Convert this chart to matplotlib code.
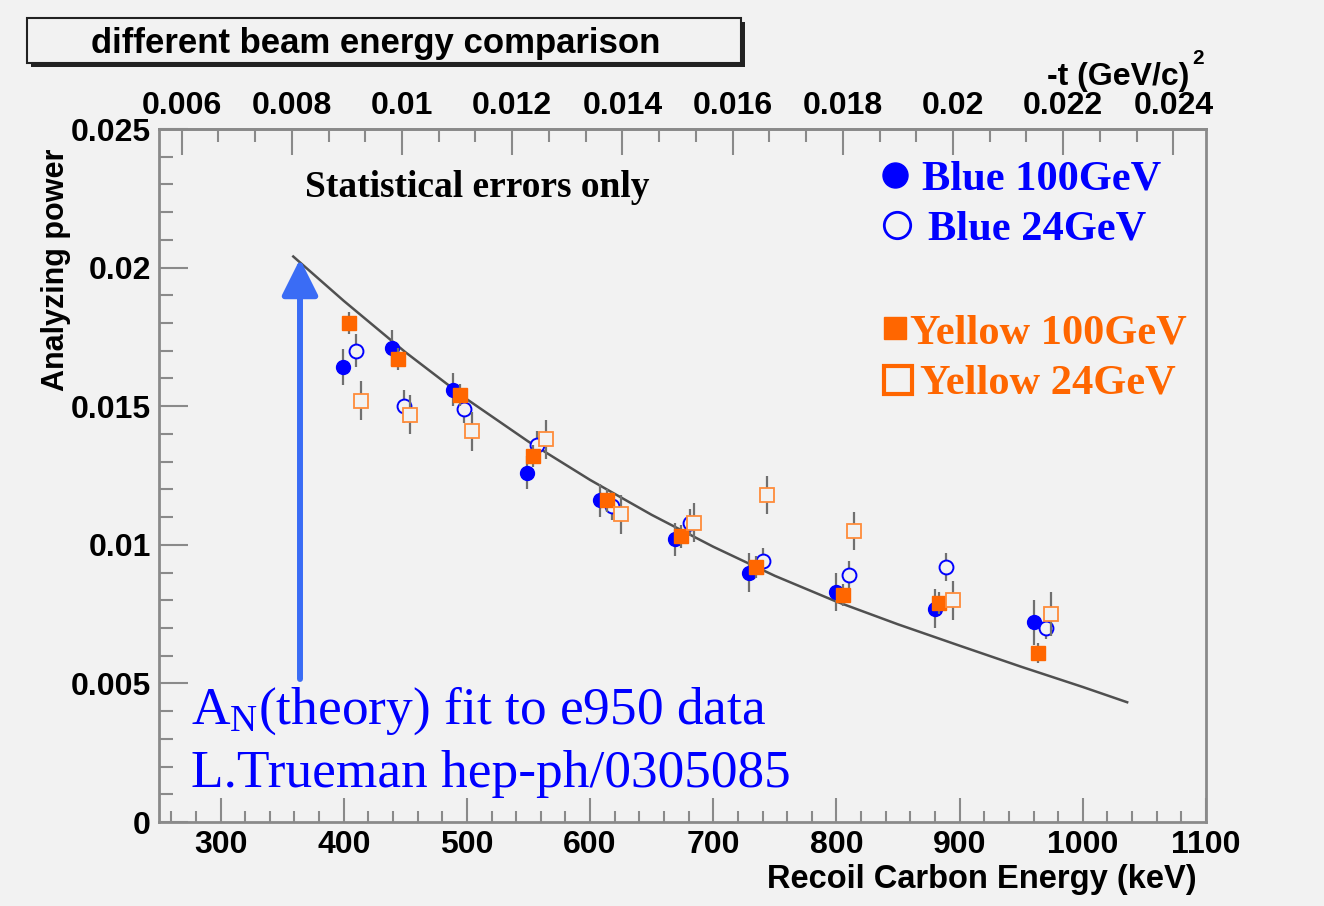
import matplotlib
matplotlib.use('Agg')
import matplotlib.pyplot as plt
from matplotlib.patches import Rectangle, FancyArrowPatch
from matplotlib.ticker import MultipleLocator, FuncFormatter

# recoil carbon energy (keV), analyzing power and stat. error
t_blue100 = [399, 439, 489, 549, 608, 669, 729, 800, 880, 960]
an_blue100 = [0.0164, 0.0171, 0.0156, 0.0126, 0.0116, 0.0102, 0.0090, 0.0083, 0.0077, 0.0072]
err_blue100 = [0.00065, 0.00065, 0.0006, 0.0006, 0.0006, 0.0006, 0.0007, 0.0007, 0.0007, 0.0008]

t_blue24 = [410, 449, 498, 557, 618, 681, 740, 810, 889, 970]
an_blue24 = [0.0170, 0.0150, 0.0149, 0.0136, 0.0114, 0.0108, 0.0094, 0.0089, 0.0092, 0.0070]
err_blue24 = [0.0006, 0.0006, 0.0005, 0.0005, 0.0005, 0.0005, 0.0005, 0.0005, 0.0005, 0.0004]

t_yellow100 = [404, 444, 494, 554, 614, 674, 735, 805, 883, 964]
an_yellow100 = [0.0180, 0.0167, 0.0154, 0.0132, 0.0116, 0.0103, 0.0092, 0.0082, 0.0079, 0.0061]
err_yellow100 = [0.0004, 0.0004, 0.0004, 0.0004, 0.0004, 0.0004, 0.0004, 0.0004, 0.0004, 0.00035]

t_yellow24 = [414, 454, 504, 564, 625, 684, 744, 814, 895, 974]
an_yellow24 = [0.0152, 0.0147, 0.0141, 0.0138, 0.0111, 0.0108, 0.0118, 0.0105, 0.0080, 0.0075]
err_yellow24 = [0.0007, 0.0007, 0.0007, 0.0007, 0.0007, 0.0007, 0.0007, 0.0007, 0.0007, 0.00078]

# theory curve (Trueman fit)
t_theory = [359, 400, 450, 500, 550, 600, 650, 700, 750, 800, 850, 900, 950, 1000, 1036]
an_theory = [0.02040, 0.01880, 0.01695, 0.01525, 0.01372, 0.01234, 0.01108, 0.00993, 0.00888,
             0.00795, 0.00713, 0.00636, 0.00560, 0.00487, 0.00432]

M_CARBON = 11.178  # GeV, -t = 2 M T

W, H = 1324, 906
bg = '#f2f2f2'
gray = '#8a8a8a'
blue = '#0000ff'
orange = '#ff6600'

plt.rcParams['font.family'] = 'Liberation Sans'
plt.rcParams['mathtext.fontset'] = 'custom'
plt.rcParams['mathtext.rm'] = 'Liberation Serif'
plt.rcParams['mathtext.it'] = 'Liberation Serif:italic'
plt.rcParams['mathtext.bf'] = 'Liberation Serif:bold'


def fx(x):
    return x / W


def fy(y):
    return 1 - y / H


fig = plt.figure(figsize=(W / 100, H / 100), dpi=100, facecolor=bg)
ax = fig.add_axes([fx(159), fy(822), 1047 / W, 693 / H], facecolor=bg)

# theory curve
ax.plot(t_theory, an_theory, color='#505050', lw=1.8, zorder=1)

# data
series = [
    (t_blue100, an_blue100, err_blue100, 'o', blue, blue, 10, 1.0),
    (t_blue24, an_blue24, err_blue24, 'o', bg, blue, 10, 1.4),
    (t_yellow100, an_yellow100, err_yellow100, 's', orange, orange, 9.5, 1.0),
    (t_yellow24, an_yellow24, err_yellow24, 's', bg, '#ff8c3a', 10, 1.3),
]
z = 3
for t, a, e, m, fc, ec, ms, mew in series:
    ax.errorbar(t, a, yerr=e, fmt='none', ecolor='#707070', elinewidth=1.6, capsize=0, zorder=z)
    ax.plot(t, a, m, ms=ms, mfc=fc, mec=ec, mew=mew, ls='none', zorder=z + 1)
    z += 2

ax.set_xlim(250, 1100)
ax.set_ylim(0, 0.025)
ax.xaxis.set_major_locator(MultipleLocator(100))
ax.xaxis.set_minor_locator(MultipleLocator(20))
ax.yaxis.set_major_locator(MultipleLocator(0.005))
ax.yaxis.set_minor_locator(MultipleLocator(0.001))
ax.yaxis.set_major_formatter(FuncFormatter(lambda v, p: '%g' % round(v, 6)))

ax.tick_params(axis='x', which='both', direction='in', top=False, bottom=True,
               color=gray, width=1.5, labelsize=23, pad=6)
ax.tick_params(axis='x', which='major', length=17)
ax.tick_params(axis='x', which='minor', length=8)
ax.tick_params(axis='y', which='both', direction='in', left=True, right=False,
               color=gray, width=1.5, labelsize=23, pad=6)
ax.tick_params(axis='y', which='major', length=21)
ax.tick_params(axis='y', which='minor', length=10)
for lab in ax.get_xticklabels() + ax.get_yticklabels():
    lab.set_fontweight('bold')

for sp in ax.spines.values():
    sp.set_color(gray)
    sp.set_linewidth(2.0)

ax.set_xlabel('Recoil Carbon Energy (keV)', family='Liberation Sans', weight='bold', size=23.5)
ax.xaxis.set_label_coords((1197 - 159) / 1047, (822 - 888) / 693)
ax.xaxis.label.set_ha('right')
ax.xaxis.label.set_va('baseline')

ax.set_ylabel('Analyzing power', family='Liberation Sans', weight='bold', size=22)
ax.yaxis.set_label_coords((56 - 159) / 1047, (822 - 270) / 693)
ax.yaxis.label.set_va('center')
ax.yaxis.label.set_ha('center')

# top axis in -t
sec = ax.secondary_xaxis('top', functions=(lambda e: 2 * M_CARBON * e * 1e-6,
                                           lambda t: t / (2 * M_CARBON * 1e-6)))
sec.xaxis.set_major_locator(MultipleLocator(0.002))
sec.xaxis.set_minor_locator(MultipleLocator(0.002 / 3))
sec.xaxis.set_major_formatter(FuncFormatter(lambda v, p: '%g' % round(v, 6)))
sec.tick_params(axis='x', which='both', direction='in', color=gray, width=1.5,
                labelsize=23, pad=6)
sec.tick_params(axis='x', which='major', length=19)
sec.tick_params(axis='x', which='minor', length=9)
for lab in sec.get_xticklabels():
    lab.set_fontweight('bold')
sec.spines['top'].set_color(gray)
sec.spines['top'].set_linewidth(2.0)

# top axis title -t (GeV/c)^2
fig.text(fx(1189), fy(85), '-t (GeV/c)', ha='right', va='baseline',
         family='Liberation Sans', weight='bold', size=23)
fig.text(fx(1198), fy(58), '2', ha='center', va='center',
         family='Liberation Sans', weight='bold', size=15)

# title box with shadow
fig.patches.append(Rectangle((fx(31), fy(67)), (741 - 27) / W, 45 / H, transform=fig.transFigure,
                             fc='#222222', ec='none', zorder=0))
fig.patches.append(Rectangle((fx(27), fy(63)), (741 - 27) / W, 45 / H, transform=fig.transFigure,
                             fc=bg, ec='#222222', lw=1.5, zorder=1))
fig.text(fx(376), fy(43), 'different beam energy comparison', ha='center', va='center',
         family='Liberation Sans', weight='bold', size=25, zorder=2)

# annotations
fig.text(fx(305), fy(197), 'Statistical errors only', ha='left', va='baseline',
         family='Liberation Serif', weight='bold', size=27)

serif_b = dict(family='Liberation Serif', weight='bold', size=30.5)
fig.text(fx(922), fy(190), 'Blue 100GeV', color=blue, ha='left', va='baseline', **serif_b)
fig.text(fx(928), fy(240), 'Blue 24GeV', color=blue, ha='left', va='baseline', **serif_b)
fig.text(fx(910), fy(343), 'Yellow 100GeV', color=orange, ha='left', va='baseline', **serif_b)
fig.text(fx(920), fy(393), 'Yellow 24GeV', color=orange, ha='left', va='baseline', **serif_b)

legend_marks = [
    (895, 175, 'o', blue, blue, 18, 1),
    (897, 225, 'o', bg, blue, 19, 2),
    (895, 328, 's', orange, orange, 16.5, 1),
    (898, 380, 's', bg, orange, 20, 3),
]
for x, y, m, fc, ec, ms, mew in legend_marks:
    ax.plot([(x - 159) / 1047], [(822 - y) / 693], m, ms=ms, mfc=fc, mec=ec, mew=mew,
            transform=ax.transAxes, clip_on=False, zorder=10)

fig.text(fx(191), fy(724), r'A$_{\mathrm{N}}$(theory) fit to e950 data', color=blue,
         ha='left', va='baseline', family='Liberation Serif', size=38.4)
fig.text(fx(191), fy(787), 'L.Trueman hep-ph/0305085', color=blue,
         ha='left', va='baseline', family='Liberation Serif', size=38.4)

arrow = FancyArrowPatch((fx(300), fy(679)), (fx(300), fy(259)), transform=fig.transFigure,
                        arrowstyle='-|>,head_length=22,head_width=11', mutation_scale=1,
                        color='#3a6cf5', lw=4.3, shrinkA=0, shrinkB=0)
fig.patches.append(arrow)

fig.savefig('out.png', dpi=100, facecolor=bg)
